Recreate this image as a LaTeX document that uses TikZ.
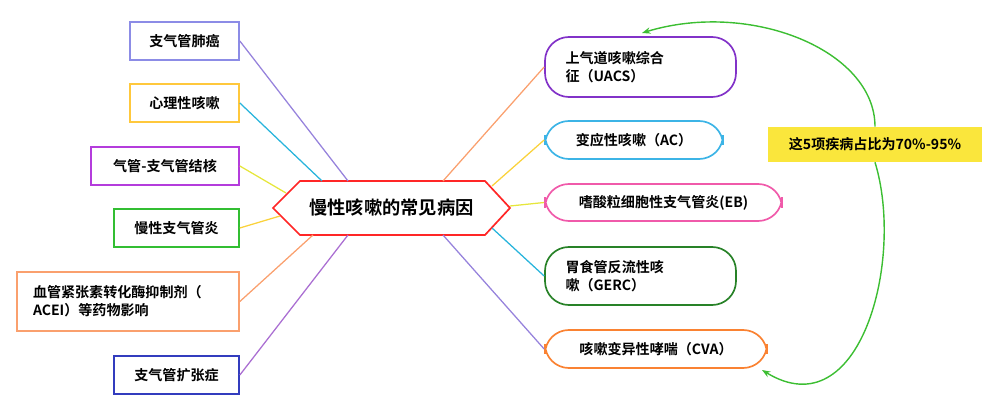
\documentclass[tikz,border=0pt]{standalone}
\usepackage{fontspec}
\setmainfont{Noto Sans CJK SC}[BoldFont={Noto Sans CJK SC Bold}]
\usetikzlibrary{arrows.meta}
\definecolor{cA}{RGB}{140,140,230}\definecolor{cB}{RGB}{255,200,60}
\definecolor{cC}{RGB}{180,60,220}\definecolor{cD}{RGB}{50,190,50}
\definecolor{cE}{RGB}{250,160,110}\definecolor{cF}{RGB}{50,60,190}
\definecolor{lA}{RGB}{150,130,220}\definecolor{lB}{RGB}{40,180,220}
\definecolor{lC}{RGB}{230,230,60}\definecolor{lD}{RGB}{250,210,60}
\definecolor{lF}{RGB}{170,110,210}
\definecolor{rA}{RGB}{130,50,200}\definecolor{rB}{RGB}{60,180,230}
\definecolor{rC}{RGB}{240,90,170}\definecolor{rD}{RGB}{40,130,40}
\definecolor{rE}{RGB}{250,130,50}\definecolor{yel}{RGB}{250,230,60}
\definecolor{arr}{RGB}{60,190,50}
\tikzset{
 lbox/.style={draw=#1,line width=1.2pt,font=\bfseries\fontsize{10}{13}\selectfont,inner sep=0pt},
 rbox/.style={draw=#1,line width=1.2pt,rounded corners=17,font=\bfseries\fontsize{10}{13}\selectfont,inner sep=0pt},
 conn/.style={draw=#1,line width=0.9pt}
}
\begin{document}
\begin{tikzpicture}[x=0.025cm,y=-0.025cm]
\useasboundingbox (0,0) rectangle (1000,411);
% left boxes
\node[lbox=cA,minimum width=109*0.025cm,minimum height=38*0.025cm] (l1) at (184.5,41) {支气管肺癌};
\node[lbox=cB,minimum width=109*0.025cm,minimum height=38*0.025cm] (l2) at (184.5,103) {心理性咳嗽};
\node[lbox=cC,minimum width=148*0.025cm,minimum height=38*0.025cm] (l3) at (165,166) {气管-支气管结核};
\node[lbox=cD,minimum width=125*0.025cm,minimum height=38*0.025cm] (l4) at (176.5,228) {慢性支气管炎};
\node[lbox=cE,minimum width=222*0.025cm,minimum height=59*0.025cm,align=left,text width=190*0.025cm] (l5) at (128,301.5) {血管紧张素转化酶抑制剂（\\ACEI）等药物影响};
\node[lbox=cF,minimum width=125*0.025cm,minimum height=38*0.025cm] (l6) at (176.5,375) {支气管扩张症};
% center hexagon
\coordinate (hL) at (273,208); \coordinate (hR) at (510,208);
\coordinate (hTL) at (300,181); \coordinate (hTR) at (485,181);
\coordinate (hBL) at (300,235); \coordinate (hBR) at (485,235);
\draw[draw=red!85,line width=1.2pt,fill=white] (hL)--(hTL)--(hTR)--(hR)--(hBR)--(hBL)--cycle;
\node[font=\bfseries\fontsize{13}{15}\selectfont] (c) at (391.5,208) {慢性咳嗽的常见病因};
% right boxes
\node[rbox=rA,minimum width=191*0.025cm,minimum height=60*0.025cm,align=left,text width=150*0.025cm] (r1) at (640.5,67) {上气道咳嗽综合\\征（UACS）};
\node[rbox=rB,minimum width=178*0.025cm,minimum height=38*0.025cm] (r2) at (634,140) {变应性咳嗽（AC）};
\node[rbox=rC,minimum width=237*0.025cm,minimum height=37*0.025cm] (r3) at (663.5,202.5) {嗜酸粒细胞性支气管炎(EB)};
\node[rbox=rD,minimum width=191*0.025cm,minimum height=58*0.025cm,align=left,text width=150*0.025cm] (r4) at (640.5,276) {胃食管反流性咳\\嗽（GERC）};
\node[rbox=rE,minimum width=222*0.025cm,minimum height=38*0.025cm] (r5) at (656,349) {咳嗽变异性哮喘（CVA）};
\node[fill=yel,minimum width=214*0.025cm,minimum height=35*0.025cm,font=\bfseries\fontsize{10}{13}\selectfont] (y) at (875,144.5) {这5项疾病占比为70\%-95\%};
% connectors
\draw[conn=lA] (l1.east) -- (348,181);
\draw[conn=lB] (l2.east) -- (322,181);
\draw[conn=lC] (l3.east) -- (286,193);
\draw[conn=lD] (l4.east) -- (280,216);
\draw[conn=cE] (l5.east) -- (313,235);
\draw[conn=lF] (l6.east) -- (348,235);
\draw[conn=cE] (443,181) -- (r1.west);
\draw[conn=lD] (492,186) -- (r2.west);
\draw[conn=lC] (510,206) -- (r3.west);
\draw[conn=lB] (492,228) -- (r4.west);
\draw[conn=lA] (443,235) -- (r5.west);
\draw[arr,line width=1pt,-{Stealth[length=6pt]}] (y.north) .. controls (875,50) and (750,0) .. (642,33);
\draw[arr,line width=1pt,-{Stealth[length=6pt]}] (y.south) .. controls (905,260) and (860,430) .. (762,370);
\end{tikzpicture}
\end{document}
